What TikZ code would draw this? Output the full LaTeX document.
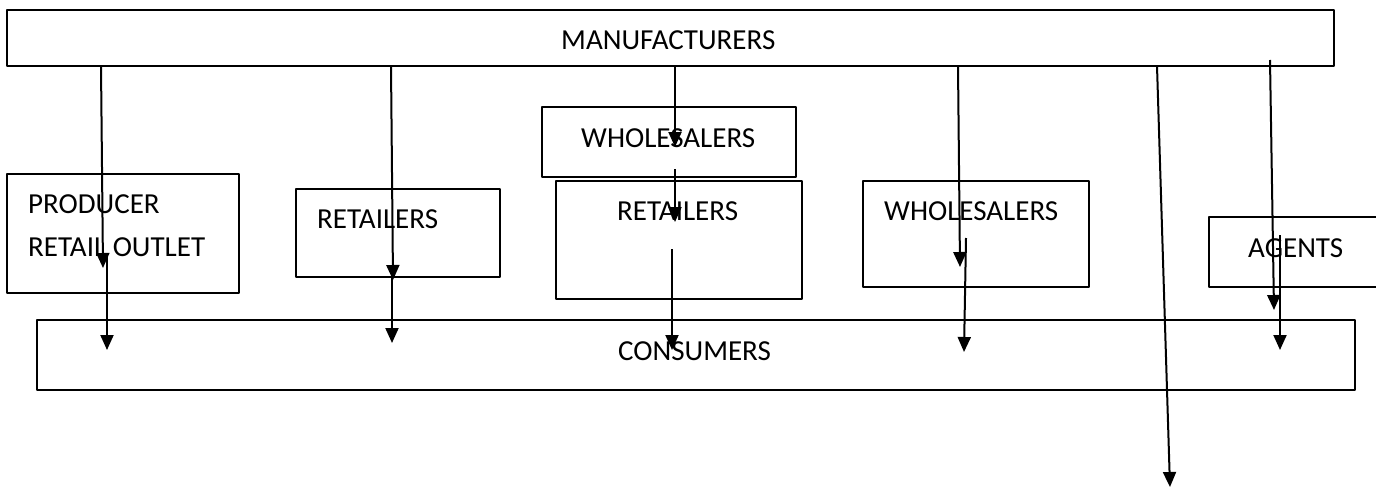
\documentclass[tikz,border=0pt]{standalone}
\usepackage{fontspec}
\setmainfont{Carlito}
\usetikzlibrary{arrows.meta}
\begin{document}
\begin{tikzpicture}[x=1pt,y=-1pt,line join=round,
	box/.style={draw,line width=1.3pt,inner sep=0pt,outer sep=0pt},
	txt/.style={anchor=base west,inner sep=0pt,font=\fontsize{29}{35}\selectfont},
	flow/.style={line width=2pt,-{Triangle[width=13pt,length=15pt]}}]
	\useasboundingbox (0,0) rectangle (1376,487);
	% boxes
	\node[box,minimum width=1327pt,minimum height=56pt] (manu) at (670.5,38) {};
	\node[box,minimum width=232pt,minimum height=119pt] (prod) at (123,233.5) {};
	\node[box,minimum width=204pt,minimum height=88pt] (retA) at (398,233) {};
	\node[box,minimum width=254pt,minimum height=70pt] (wholA) at (669,142) {};
	\node[box,minimum width=246pt,minimum height=118pt] (retB) at (679,240) {};
	\node[box,minimum width=226pt,minimum height=106pt] (wholB) at (976,234) {};
	\node[box,minimum width=211pt,minimum height=70pt] (agent) at (1314.5,252) {};
	\node[box,minimum width=1318pt,minimum height=70pt] (cons) at (696,355) {};
	% labels
	\node[txt] (tmanu) at (561,50) {MANUFACTURERS};
	\node[txt] (tprod) at (28,213) {PRODUCER};
	\node[txt] (tout) at (28,256) {RETAIL OUTLET};
	\node[txt] (tretA) at (317,228) {RETAILERS};
	\node[txt] (twholA) at (581,147) {WHOLESALERS};
	\node[txt] (tretB) at (617,220) {RETAILERS};
	\node[txt] (twholB) at (884,220) {WHOLESALERS};
	\node[txt] (tagent) at (1248,257) {AGENTS};
	\node[txt] (tcons) at (618,360) {CONSUMERS};
	% arrows
	\foreach \n/\xa/\ya/\xb/\yb in {a/101/66/103/268, b/107/257/107/350,
		c/391/66/393/280, d/392/278/392/343,
		e/675/66/675/147, f/675/169/675/222, g/672/249/672/350,
		h/958/66/960/267, i/966/238/964/352,
		j/1157/66/1170/487,
		k/1270/60/1274/310, l/1280/235/1280/350}{
		\coordinate (\n1) at (\xa,\ya);
		\coordinate (\n2) at (\xb,\yb);
		\draw[flow] (\n1)--(\n2);}
\end{tikzpicture}
\end{document}
